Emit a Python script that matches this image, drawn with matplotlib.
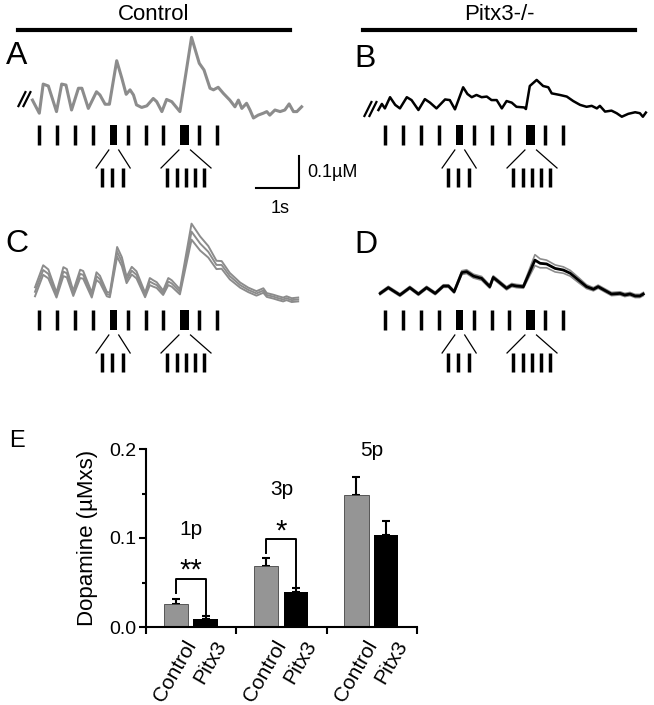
import numpy as np
import matplotlib
matplotlib.use('Agg')
import matplotlib.pyplot as plt
import matplotlib.transforms as mtransforms

plt.rcParams['font.family'] = ['Liberation Sans', 'DejaVu Sans']

# ---- traces (time in s, dopamine in uM) ----
a_t = [0.01, 0.17, 0.26, 0.38, 0.57, 0.69, 0.79, 0.92, 1.08, 1.16,
       1.31, 1.50, 1.58, 1.70, 1.80, 1.97, 2.09, 2.19, 2.28, 2.36,
       2.43, 2.55, 2.67, 2.82, 2.90, 3.02, 3.13, 3.25, 3.44, 3.71,
       3.89, 4.00, 4.14, 4.22, 4.33, 4.45, 4.60, 4.72, 4.80, 4.88,
       4.99, 5.07, 5.15, 5.26, 5.38, 5.46, 5.53, 5.65, 5.77, 5.88,
       5.98, 6.08, 6.16, 6.27]
a_v = [0.056, 0.015, 0.106, 0.100, 0.020, 0.106, 0.103, 0.025, 0.093, 0.093,
       0.030, 0.082, 0.072, 0.043, 0.043, 0.179, 0.124, 0.074, 0.088, 0.072,
       0.041, 0.033, 0.038, 0.061, 0.051, 0.020, 0.058, 0.051, 0.020, 0.252,
       0.171, 0.150, 0.093, 0.088, 0.096, 0.077, 0.056, 0.035, 0.056, 0.030,
       0.046, 0.025, 0.000, 0.009, 0.015, 0.020, 0.009, 0.025, 0.020, 0.025,
       0.044, 0.020, 0.020, 0.035]

b_t = [0.01, 0.09, 0.16, 0.28, 0.40, 0.51, 0.67, 0.78, 0.94, 1.09,
       1.21, 1.36, 1.56, 1.67, 1.79, 1.98, 2.08, 2.18, 2.29, 2.41,
       2.53, 2.64, 2.76, 2.88, 2.99, 3.11, 3.22, 3.40, 3.44, 3.53,
       3.69, 3.84, 3.96, 4.04, 4.23, 4.39, 4.54, 4.70, 4.85, 4.97,
       5.09, 5.16, 5.28, 5.43, 5.55, 5.67, 5.82, 5.98, 6.09, 6.16,
       6.23]
b_v = [0.025, 0.044, 0.030, 0.065, 0.041, 0.030, 0.065, 0.056, 0.025, 0.059,
       0.048, 0.030, 0.058, 0.056, 0.027, 0.096, 0.075, 0.065, 0.072, 0.065,
       0.067, 0.056, 0.056, 0.030, 0.053, 0.048, 0.035, 0.033, 0.028, 0.100,
       0.119, 0.100, 0.096, 0.077, 0.072, 0.067, 0.053, 0.041, 0.035, 0.038,
       0.030, 0.038, 0.020, 0.023, 0.015, 0.004, 0.013, 0.018, 0.015, 0.004,
       0.017]

c_t = [0.07, 0.26, 0.38, 0.57, 0.73, 0.81, 0.96, 1.12, 1.19, 1.39,
       1.50, 1.58, 1.74, 1.81, 1.98, 2.09, 2.20, 2.32, 2.43, 2.63,
       2.74, 2.82, 2.90, 3.05, 3.17, 3.25, 3.44, 3.71, 3.91, 4.10,
       4.29, 4.41, 4.60, 4.84, 5.03, 5.22, 5.38, 5.46, 5.61, 5.73,
       5.84, 5.92, 6.04, 6.19]
c_mean = [0.035, 0.103, 0.091, 0.025, 0.098, 0.093, 0.030, 0.091, 0.088, 0.025,
          0.084, 0.074, 0.028, 0.025, 0.160, 0.129, 0.072, 0.101, 0.088, 0.025,
          0.067, 0.061, 0.056, 0.032, 0.067, 0.061, 0.035, 0.223, 0.186, 0.160,
          0.119, 0.119, 0.084, 0.056, 0.041, 0.030, 0.039, 0.025, 0.020, 0.015,
          0.011, 0.015, 0.009, 0.011]
c_sem = [0.014, 0.015, 0.014, 0.008, 0.014, 0.013, 0.008, 0.013, 0.012, 0.008,
         0.012, 0.011, 0.007, 0.007, 0.015, 0.014, 0.010, 0.012, 0.011, 0.007,
         0.011, 0.010, 0.009, 0.007, 0.011, 0.010, 0.008, 0.025, 0.022, 0.018,
         0.013, 0.012, 0.010, 0.008, 0.007, 0.007, 0.007, 0.006, 0.006, 0.006,
         0.006, 0.006, 0.006, 0.006]

d_t = [0.05, 0.24, 0.51, 0.74, 0.94, 1.13, 1.33, 1.52, 1.64, 1.77,
       1.95, 2.06, 2.22, 2.41, 2.60, 2.68, 2.80, 2.99, 3.11, 3.22,
       3.38, 3.65, 3.77, 3.92, 4.12, 4.31, 4.47, 4.66, 4.85, 5.01,
       5.12, 5.28, 5.43, 5.63, 5.74, 5.86, 5.98, 6.09, 6.17]
d_mean = [0.030, 0.048, 0.025, 0.048, 0.028, 0.048, 0.030, 0.053, 0.053, 0.035,
          0.095, 0.098, 0.084, 0.077, 0.051, 0.080, 0.067, 0.046, 0.056, 0.053,
          0.051, 0.134, 0.124, 0.122, 0.108, 0.103, 0.093, 0.072, 0.051, 0.043,
          0.051, 0.039, 0.028, 0.030, 0.025, 0.028, 0.022, 0.022, 0.028]
d_sem = [0.004, 0.004, 0.004, 0.004, 0.004, 0.004, 0.004, 0.004, 0.004, 0.004,
         0.006, 0.006, 0.006, 0.006, 0.005, 0.005, 0.005, 0.005, 0.005, 0.005,
         0.005, 0.017, 0.014, 0.012, 0.011, 0.010, 0.009, 0.008, 0.006, 0.005,
         0.005, 0.005, 0.005, 0.005, 0.005, 0.005, 0.005, 0.005, 0.005]

# stimulus pattern (s)
stim_single = [0.17, 0.57, 1.00, 1.41, 2.24, 2.64, 3.05, 3.89, 4.31]
stim_blocks = [(1.81, 1.97), (3.44, 3.64)]
burst_3p = [1.63, 1.86, 2.12]
burst_5p = [3.14, 3.37, 3.58, 3.79, 4.00]

# ---- bar chart E ----
groups = ['1p', '3p', '5p']
genotypes = ['Control', 'Pitx3']
ctrl_mean = [0.026, 0.068, 0.148]
ctrl_sem = [0.005, 0.010, 0.021]
pitx_mean = [0.0095, 0.039, 0.103]
pitx_sem = [0.003, 0.005, 0.016]

W, H = 654, 705
PX_S = 43.0    # pixels per second
PX_UM = 320.0  # pixels per uM
GRAY = '#8c8c8c'

fig = plt.figure(figsize=(W / 100, H / 100), dpi=100)


def px_rect(x0, y0, x1, y1):
    return [x0 / W, 1 - y1 / H, (x1 - x0) / W, (y1 - y0) / H]


def fx(x):
    return x / W


def fy(y):
    return 1 - y / H


def trace_axes(ox, oy):
    ax = fig.add_axes(px_rect(ox - 30, oy - 90, ox + 290, oy + 75))
    ax.set_xlim(-30 / PX_S, 290 / PX_S)
    ax.set_ylim(-75 / PX_UM, 90 / PX_UM)
    ax.axis('off')
    return ax


def draw_stim(ax):
    u = 1 / PX_UM
    s = 1 / PX_S
    ax.vlines(stim_single, -27 * u, -7 * u, color='k', lw=2.5)
    for l, r in stim_blocks:
        ax.bar(l, 20 * u, width=r - l, bottom=-27 * u, align='edge', color='k', lw=0)
    for (l, r), burst in zip(stim_blocks, [burst_3p, burst_5p]):
        ax.plot([l - 1 * s, burst[0] - 6 * s], [-32 * u, -50 * u], color='k', lw=0.9)
        ax.plot([r + 2 * s, burst[-1] + 7 * s], [-32 * u, -50 * u], color='k', lw=0.9)
        ax.vlines(burst, -69 * u, -50 * u, color='k', lw=2.5)


def break_mark(ax, t0, v0):
    s = 1 / PX_S
    u = 1 / PX_UM
    for dx in (0, 5):
        ax.plot([t0 + (dx - 14) * s, t0 + (dx - 7) * s], [v0 - 6 * u, v0 + 8 * u],
                color='k', lw=1.6, clip_on=False)


# A
axA = trace_axes(32, 118)
axA.plot(a_t, a_v, color=GRAY, lw=2.2)
break_mark(axA, a_t[0], a_v[0])
draw_stim(axA)
# scale bar: 1 s, 0.1 uM
sb_t, sb_v = 6.21, -0.219
axA.plot([sb_t - 1.0, sb_t, sb_t], [sb_v, sb_v, sb_v + 0.1], color='k', lw=1.5, clip_on=False)
axA.text(sb_t + 0.2, sb_v + 0.05, '0.1µM', fontsize=13, ha='left', va='center')
axA.text(sb_t - 0.45, sb_v - 0.065, '1s', fontsize=13, ha='center', va='center')

# B
axB = trace_axes(378, 118)
axB.plot(b_t, b_v, color='k', lw=1.8)
break_mark(axB, b_t[0], b_v[0])
draw_stim(axB)

# C
axC = trace_axes(32, 303)
c_m = np.array(c_mean)
c_s = np.array(c_sem)
for y in (c_m + c_s, c_m - c_s, c_m):
    axC.plot(c_t, y, color=GRAY, lw=1.4)
draw_stim(axC)

# D
axD = trace_axes(378, 303)
d_m = np.array(d_mean)
d_s = np.array(d_sem)
axD.plot(d_t, d_m + d_s, color=GRAY, lw=1.2)
axD.plot(d_t, d_m - d_s, color=GRAY, lw=1.2)
axD.plot(d_t, d_m, color='k', lw=2.0)
draw_stim(axD)

# headers
for (x0, x1), label in zip([(18, 290), (363, 635)], ['Control', 'Pitx3-/-']):
    fig.add_artist(plt.Line2D([fx(x0), fx(x1)], [fy(30), fy(30)], color='k', lw=3.0))
    fig.text(fx((x0 + x1) / 2), fy(15), label, fontsize=16, ha='center', va='center')

# panel letters
for (x, y), letter, size in zip([(17, 56), (365, 59), (17, 244), (366, 245), (17, 441)],
                                ['A', 'B', 'C', 'D', 'E'], [23, 23, 23, 23, 17]):
    fig.text(fx(x), fy(y), letter, fontsize=size, ha='center', va='center')

# E bar chart
axE = fig.add_axes(px_rect(146, 449, 417, 627))
x = np.arange(len(groups))
xc = x - 0.17
xp = x + 0.16
axE.bar(xc, ctrl_mean, width=0.27, color='#959595', edgecolor='#444444', lw=0.6, zorder=2)
axE.bar(xp, pitx_mean, width=0.27, color='k', zorder=2)
axE.errorbar(xc, ctrl_mean, yerr=[np.zeros(3), ctrl_sem], fmt='none', ecolor='k',
             elinewidth=1.5, capsize=3, capthick=1.5, zorder=1)
axE.errorbar(xp, pitx_mean, yerr=[np.zeros(3), pitx_sem], fmt='none', ecolor='k',
             elinewidth=1.5, capsize=3, capthick=1.5, zorder=1)

# significance brackets
for i, (y_br, y_l, y_r, stars, y_s) in zip([0, 1], [(0.054, 0.038, 0.011, '**', 0.063),
                                                  (0.099, 0.083, 0.042, '*', 0.107)]):
    axE.plot([xc[i], xc[i], xp[i], xp[i]], [y_l, y_br, y_br, y_r], color='k', lw=1.4)
    axE.text((xc[i] + xp[i]) / 2, y_s, stars, fontsize=21, ha='center', va='center')

for i, (g, y) in enumerate(zip(groups, [0.109, 0.155, 0.198])):
    axE.text(x[i], y, g, fontsize=15, ha='center', va='center')

axE.set_xlim(-0.5, 2.5)
axE.set_ylim(0, 0.2)
axE.spines['top'].set_visible(False)
axE.spines['right'].set_visible(False)
for sp in ('left', 'bottom'):
    axE.spines[sp].set_linewidth(1.5)
axE.set_yticks([0.0, 0.1, 0.2])
axE.set_yticklabels(['0.0', '0.1', '0.2'])
axE.set_yticks([0.05, 0.15], minor=True)
axE.tick_params(axis='y', which='major', direction='out', length=5, width=1.5, labelsize=14, pad=2)
axE.tick_params(axis='y', which='minor', direction='out', length=3, width=1.5)
axE.set_xticks([-0.5, 0.5, 1.5, 2.5])
axE.set_xticklabels([])
pos = np.ravel(np.column_stack([xc, xp]))
axE.set_xticks(pos, minor=True)
axE.set_xticklabels(genotypes * 3, minor=True, rotation=60, ha='right',
                    rotation_mode='anchor', fontsize=15)
axE.tick_params(axis='x', which='major', direction='out', length=5, width=1.5)
axE.tick_params(axis='x', which='minor', length=0, pad=7)
shift = mtransforms.ScaledTranslation(0.08, 0, fig.dpi_scale_trans)
for lab in axE.get_xticklabels(minor=True):
    lab.set_transform(lab.get_transform() + shift)
axE.set_ylabel('Dopamine (µMxs)', fontsize=16)
axE.yaxis.set_label_coords(-0.177, 0.5)

fig.savefig('out.png', dpi=100)
